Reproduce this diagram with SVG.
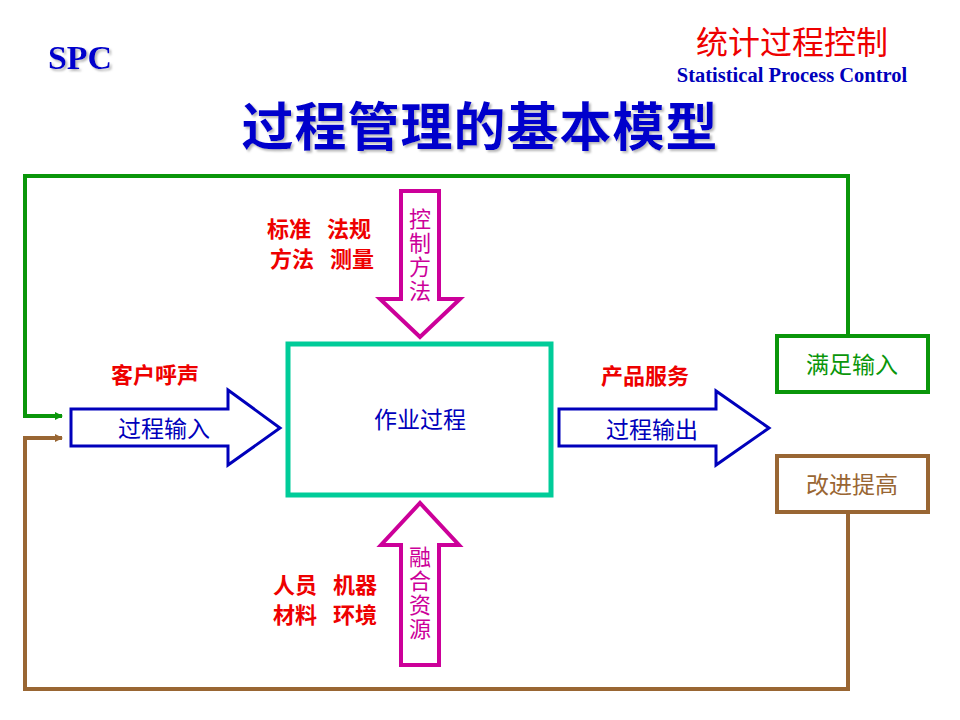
<svg xmlns="http://www.w3.org/2000/svg" width="960" height="720" viewBox="0 0 960 720">
<defs>
<marker id="ag" markerWidth="8" markerHeight="8" refX="7" refY="4" orient="auto" markerUnits="userSpaceOnUse"><path d="M0,0 L8,4 L0,8 Z" fill="#0a960a"/></marker>
<marker id="ab" markerWidth="8" markerHeight="8" refX="7" refY="4" orient="auto" markerUnits="userSpaceOnUse"><path d="M0,0 L8,4 L0,8 Z" fill="#996633"/></marker>
<filter id="sh" x="-5%" y="-5%" width="115%" height="125%"><feDropShadow dx="2" dy="2" stdDeviation="1" flood-color="#999" flood-opacity="0.7"/></filter>
</defs>
<style>
.cjk{font-family:"Noto Sans CJK SC","Noto Sans",sans-serif}
.red{font-family:"Noto Sans CJK SC",sans-serif;fill:#ee0000;font-weight:bold;font-size:22px}
.blue{fill:#0000bb}
.mag{fill:#cc0099;font-size:22px;writing-mode:vertical-rl;letter-spacing:2px}
.big{fill:none;stroke:#0000bb;stroke-width:3}
.marr{fill:none;stroke:#cc0099;stroke-width:4}
</style>
<rect width="960" height="720" fill="#fff"/>

<text x="80" y="69" text-anchor="middle" font-family="Liberation Serif,serif" font-weight="bold" font-size="34" fill="#0000cc" filter="url(#sh)">SPC</text>
<text x="792" y="54" text-anchor="middle" class="cjk" font-size="32" fill="#ee0000">统计过程控制</text>
<text x="792" y="82" text-anchor="middle" font-family="Liberation Serif,serif" font-weight="bold" font-size="20.5" fill="#0000bb">Statistical Process Control</text>
<text x="480" y="146" text-anchor="middle" class="cjk" font-size="52" font-weight="bold" fill="#0000cc" letter-spacing="1" filter="url(#sh)">过程管理的基本模型</text>

<g id="connectors" fill="none" stroke-width="4">
<path d="M848,336 V176 H25 V416 H62" stroke="#0a960a" marker-end="url(#ag)"/>
<path d="M848,512 V689 H25 V438 H62" stroke="#996633" marker-end="url(#ab)"/>
</g>

<g id="input">
<path class="big" d="M71,409 H228 V390 L280,428 L228,465 V446 H71 Z"/>
<text x="164" y="437" text-anchor="middle" class="cjk blue" font-size="23">过程输入</text>
<text x="155" y="383" text-anchor="middle" class="red" font-size="23">客户呼声</text>
</g>

<g id="process">
<rect x="288" y="344" width="263" height="151" fill="#fff" stroke="#00cc99" stroke-width="5"/>
<text x="420" y="428" text-anchor="middle" class="cjk blue" font-size="23">作业过程</text>
</g>

<g id="output">
<path class="big" d="M559,409 H716 V391 L769,428 L716,465 V446 H559 Z"/>
<text x="652" y="438" text-anchor="middle" class="cjk blue" font-size="23">过程输出</text>
<text x="645" y="384" text-anchor="middle" class="red" font-size="23">产品服务</text>
</g>

<g id="control">
<path class="marr" d="M401,191 H439 V299 H460 L420,337 L380,299 H401 Z"/>
<text x="420" y="208" class="cjk mag">控制方法</text>
<text y="237" class="red"><tspan x="267">标准</tspan><tspan x="327">法规</tspan></text>
<text y="267" class="red"><tspan x="270">方法</tspan><tspan x="330">测量</tspan></text>
</g>

<g id="resource">
<path class="marr" d="M401,665 H439 V545 H459 L420,503 L381,545 H401 Z"/>
<text x="420" y="546" class="cjk mag">融合资源</text>
<text y="593" class="red"><tspan x="273">人员</tspan><tspan x="333">机器</tspan></text>
<text y="623" class="red"><tspan x="273">材料</tspan><tspan x="333">环境</tspan></text>
</g>

<g id="satisfy">
<rect x="777" y="336" width="151" height="56" fill="#fff" stroke="#0a960a" stroke-width="4"/>
<text x="852" y="373" text-anchor="middle" class="cjk" font-size="23" fill="#0a960a">满足输入</text>
</g>

<g id="improve">
<rect x="777" y="456" width="151" height="56" fill="#fff" stroke="#996633" stroke-width="4"/>
<text x="852" y="493" text-anchor="middle" class="cjk" font-size="23" fill="#996633">改进提高</text>
</g>
</svg>
